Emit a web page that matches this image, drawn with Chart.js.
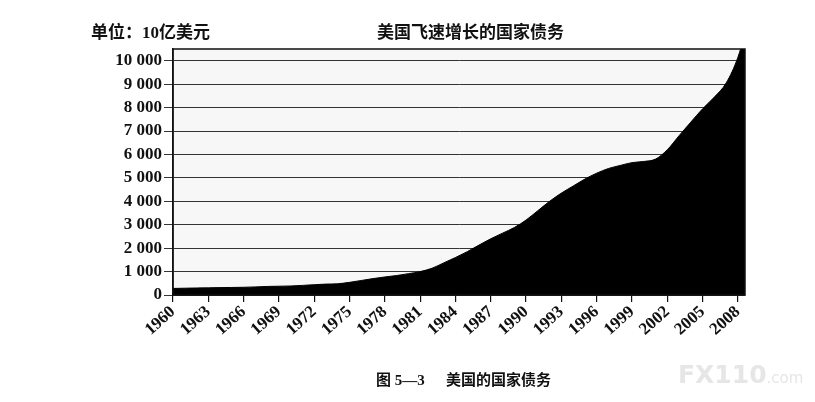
<!DOCTYPE html>
<html>
<head>
<meta charset="utf-8">
<script src="https://cdn.jsdelivr.net/npm/chart.js@4.4.1/dist/chart.umd.min.js"></script>
<style>
  html, body { margin: 0; padding: 0; background: #fff; }
  #wrap { position: relative; width: 815px; height: 402px; overflow: hidden; }
  #chart { position: absolute; left: 0; top: 0; }
  .txt { position: absolute; font-family: "Liberation Serif", "Noto Sans CJK SC", serif; font-weight: bold; color: #111; white-space: pre; line-height: 1; }
  #unit { left: 91px; top: 24px; font-size: 17px; }
  #title { left: 377px; top: 24px; font-size: 17px; }
  #cap1 { left: 376px; top: 373px; font-size: 15px; }
  #cap2 { left: 446px; top: 373px; font-size: 15px; }
  #mark { left: 678px; top: 362px; font-family: "DejaVu Sans", sans-serif; font-size: 25px; color: #e6e6e6; }
  #mark span { font-size: 15px; font-weight: normal; }
</style>
</head>
<body>
<div id="wrap">
  <canvas id="chart" width="815" height="402"></canvas>
  <div class="txt" id="unit">单位：10亿美元</div>
  <div class="txt" id="title">美国飞速增长的国家债务</div>
  <div class="txt" id="cap1">图 5—3</div>
  <div class="txt" id="cap2">美国的国家债务</div>
  <div class="txt" id="mark">FX110<span>.com</span></div>
</div>
<script>
// 年份与国家债务（10亿美元）
let years = [1960, 1961, 1962, 1963, 1964, 1965, 1966, 1967, 1968, 1969,
             1970, 1971, 1972, 1973, 1974, 1975, 1976, 1977, 1978, 1979,
             1980, 1981, 1982, 1983, 1984, 1985, 1986, 1987, 1988, 1989,
             1990, 1991, 1992, 1993, 1994, 1995, 1996, 1997, 1998, 1999,
             2000, 2001, 2002, 2003, 2004, 2005, 2006, 2007, 2008, 2009];
let debt = [280, 290, 300, 305, 315, 322, 330, 345, 365, 375,
            385, 410, 440, 465, 480, 540, 620, 700, 770, 830,
            910, 1000, 1140, 1370, 1600, 1850, 2130, 2400, 2640, 2880,
            3200, 3600, 4000, 4350, 4650, 4950, 5200, 5400, 5530, 5650,
            5700, 5800, 6200, 6800, 7380, 7950, 8450, 9050, 10150, 11900];
let tickYears = [1960, 1963, 1966, 1969, 1972, 1975, 1978, 1981, 1984,
                 1987, 1990, 1993, 1996, 1999, 2002, 2005, 2008];
let yTicks = [0, 1000, 2000, 3000, 4000, 5000, 6000, 7000, 8000, 9000, 10000];

let serif = '"Liberation Serif", "Times New Roman", serif';

// 绘图区背景和外框
let frame = {
    id: 'frame',
    beforeDraw(chart) {
        let a = chart.chartArea;
        let ctx = chart.ctx;
        ctx.save();
        ctx.fillStyle = '#f7f7f7';
        ctx.fillRect(a.left, a.top, a.right - a.left, a.bottom - a.top);
        ctx.restore();
    },
    afterDraw(chart) {
        let a = chart.chartArea;
        let ctx = chart.ctx;
        ctx.save();
        ctx.strokeStyle = '#111';
        ctx.lineWidth = 1.5;
        ctx.strokeRect(a.left, a.top, a.right - a.left, a.bottom - a.top);
        ctx.restore();
    }
};

function thousands(v) {
    return String(v).replace(/\B(?=(\d{3})+(?!\d))/g, ' ');
}

let points = years.map((y, i) => ({ x: y, y: debt[i] }));

new Chart(document.getElementById('chart'), {
    type: 'line',
    data: {
        datasets: [{
            data: points,
            fill: 'origin',
            backgroundColor: '#000',
            borderColor: '#000',
            borderWidth: 1,
            pointRadius: 0,
            cubicInterpolationMode: 'monotone'
        }]
    },
    options: {
        responsive: false,
        animation: false,
        devicePixelRatio: 1,
        layout: { padding: { top: 49, left: 0, right: 70, bottom: 40 } },
        plugins: {
            legend: { display: false },
            tooltip: { enabled: false }
        },
        scales: {
            x: {
                type: 'linear',
                min: 1960,
                max: 2008.6,
                afterBuildTicks(scale) {
                    scale.ticks = tickYears.map(v => ({ value: v }));
                },
                afterFit(scale) { scale.height = 67; },
                grid: { drawOnChartArea: false, drawTicks: true, tickLength: 7, color: '#111', lineWidth: 1.2 },
                border: { color: '#111', width: 1.5 },
                ticks: {
                    autoSkip: false,
                    minRotation: 42,
                    maxRotation: 42,
                    padding: 0,
                    color: '#111',
                    font: { family: serif, size: 17, weight: 'bold' },
                    callback: v => String(v)
                }
            },
            y: {
                min: 0,
                max: 10500,
                afterBuildTicks(scale) {
                    scale.ticks = yTicks.map(v => ({ value: v }));
                },
                afterFit(scale) { scale.width = 173; },
                grid: { color: '#333', lineWidth: 1, tickLength: 9 },
                border: { color: '#111', width: 1.5 },
                ticks: {
                    padding: 2,
                    color: '#111',
                    font: { family: serif, size: 17, weight: 'bold' },
                    callback: v => thousands(v)
                }
            }
        }
    },
    plugins: [frame]
});
</script>
</body>
</html>
